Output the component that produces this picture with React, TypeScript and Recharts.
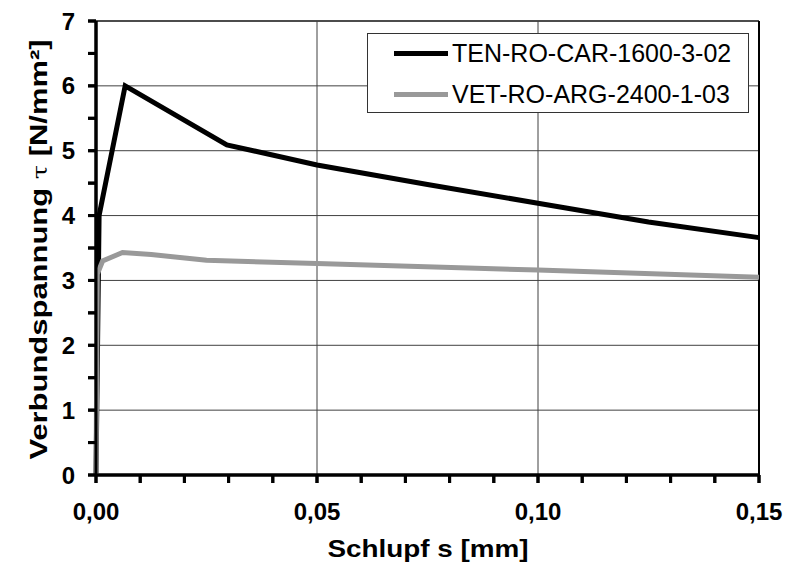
import { LineChart, Line, XAxis, YAxis, ReferenceLine } from 'recharts';

const tenX = [0, 0.0007, 0.0066, 0.0296, 0.05, 0.075, 0.1, 0.125, 0.15];
const tenY = [0, 4.0, 6.0, 5.09, 4.78, 4.48, 4.19, 3.9, 3.66];

const vetX = [0, 0.0003, 0.0015, 0.006, 0.0125, 0.025, 0.05, 0.1, 0.15];
const vetY = [0, 3.1, 3.3, 3.43, 3.4, 3.31, 3.26, 3.16, 3.05];

const seriesNames = ['TEN-RO-CAR-1600-3-02', 'VET-RO-ARG-2400-1-03'];
const seriesColors = ['#000000', '#999999'];

const xTicks = [0, 0.01, 0.02, 0.03, 0.04, 0.05, 0.06, 0.07, 0.08, 0.09, 0.1, 0.11, 0.12, 0.13, 0.14, 0.15];
const xMajor = [0, 0.05, 0.1, 0.15];
const xLabels = ['0,00', '0,05', '0,10', '0,15'];
const yTicks = [0, 0.5, 1, 1.5, 2, 2.5, 3, 3.5, 4, 4.5, 5, 5.5, 6, 6.5, 7];
const yGrid = [1, 2, 3, 4, 5, 6];

const tenData = tenX.map((x, i) => ({ x, y: tenY[i] }));
const vetData = vetX.map((x, i) => ({ x, y: vetY[i] }));

const FONT = 'Liberation Sans, Arial, sans-serif';

const XTick = ({ x, y, payload }: any) => {
  const idx = xMajor.findIndex((m) => Math.abs(m - payload.value) < 1e-9);
  return (
    <g>
      <line x1={x} x2={x} y1={y - 28} y2={y - 20} stroke="#000" strokeWidth={3} />
      {idx >= 0 && (
        <text x={x} y={y} dy="0.71em" textAnchor="middle" fontFamily={FONT} fontWeight="bold" fontSize={24} fill="#000">
          {xLabels[idx]}
        </text>
      )}
    </g>
  );
};

const YTick = ({ x, y, payload }: any) => (
  <g>
    <line x1={x + 13} x2={x + 21} y1={y} y2={y} stroke="#000" strokeWidth={3} />
    {Number.isInteger(payload.value) && (
      <text x={x} y={y} dy="0.355em" textAnchor="end" fontFamily={FONT} fontWeight="bold" fontSize={24} fill="#000">
        {payload.value}
      </text>
    )}
  </g>
);

const titleStyle: any = {
  position: 'absolute',
  fontFamily: FONT,
  fontWeight: 'bold',
  fontSize: 24,
  lineHeight: '24px',
  whiteSpace: 'nowrap',
  textAlign: 'center',
  color: '#000',
};

export default function App() {
  return (
    <div style={{ position: 'absolute', left: 0, top: 0, width: 787, height: 568, background: '#fff' }}>
      <LineChart width={787} height={568} margin={{ top: 21, right: 28, bottom: 0, left: 0 }}>
        {yGrid.map((v) => (
          <ReferenceLine key={'y' + v} y={v} stroke="#404040" strokeWidth={1} />
        ))}
        <ReferenceLine y={7} stroke="#111" strokeWidth={1.5} />
        <ReferenceLine x={0.05} stroke="#404040" strokeWidth={1} />
        <ReferenceLine x={0.1} stroke="#404040" strokeWidth={1} />
        <ReferenceLine x={0.15} stroke="#000" strokeWidth={2} />
        <ReferenceLine x={0} stroke="#000" strokeWidth={3} />
        <ReferenceLine y={0} stroke="#000" strokeWidth={3} />
        <XAxis
          dataKey="x"
          type="number"
          domain={[0, 0.15]}
          ticks={xTicks}
          interval={0}
          height={93}
          stroke="#000"
          strokeWidth={3}
          tickSize={8}
          tickMargin={20}
          tick={<XTick />}
        />
        <YAxis
          dataKey="y"
          type="number"
          domain={[0, 7]}
          ticks={yTicks}
          interval={0}
          width={96}
          axisLine={{ stroke: '#000', strokeWidth: 3 }}
          tickLine={{ stroke: '#000', strokeWidth: 3 }}
          tickSize={8}
          tickMargin={13}
          tick={<YTick />}
        />
        <Line
          data={tenData}
          dataKey="y"
          name={seriesNames[0]}
          type="linear"
          stroke={seriesColors[0]}
          strokeWidth={5}
          dot={false}
          isAnimationActive={false}
        />
        <Line
          data={vetData}
          dataKey="y"
          name={seriesNames[1]}
          type="linear"
          stroke={seriesColors[1]}
          strokeWidth={5}
          dot={false}
          isAnimationActive={false}
        />
      </LineChart>

      <div style={{ ...titleStyle, left: 128, top: 537, width: 600, transform: 'scaleX(1.16)' }}>Schlupf s [mm]</div>
      <div
        style={{
          ...titleStyle,
          left: 39 - 300,
          top: 249 - 12,
          width: 600,
          transform: 'rotate(-90deg) scaleX(1.29)',
        }}
      >
        Verbundspannung <span style={{ fontFamily: 'DejaVu Serif', fontWeight: 'normal', fontSize: 20 }}>τ</span> [N/mm²]
      </div>

      <div
        style={{
          position: 'absolute',
          left: 367,
          top: 33,
          width: 380,
          height: 78,
          border: '1px solid #333',
          background: '#fff',
          fontFamily: FONT,
          fontSize: 25,
        }}
      >
        {seriesNames.map((name, i) => (
          <div key={name} style={{ display: 'flex', alignItems: 'center', height: i === 0 ? 38 : 45 }}>
            <div style={{ width: 54, height: 5, background: seriesColors[i], marginLeft: 26, marginRight: 4 }} />
            <span style={{ lineHeight: 1 }}>{name}</span>
          </div>
        ))}
      </div>
    </div>
  );
}
